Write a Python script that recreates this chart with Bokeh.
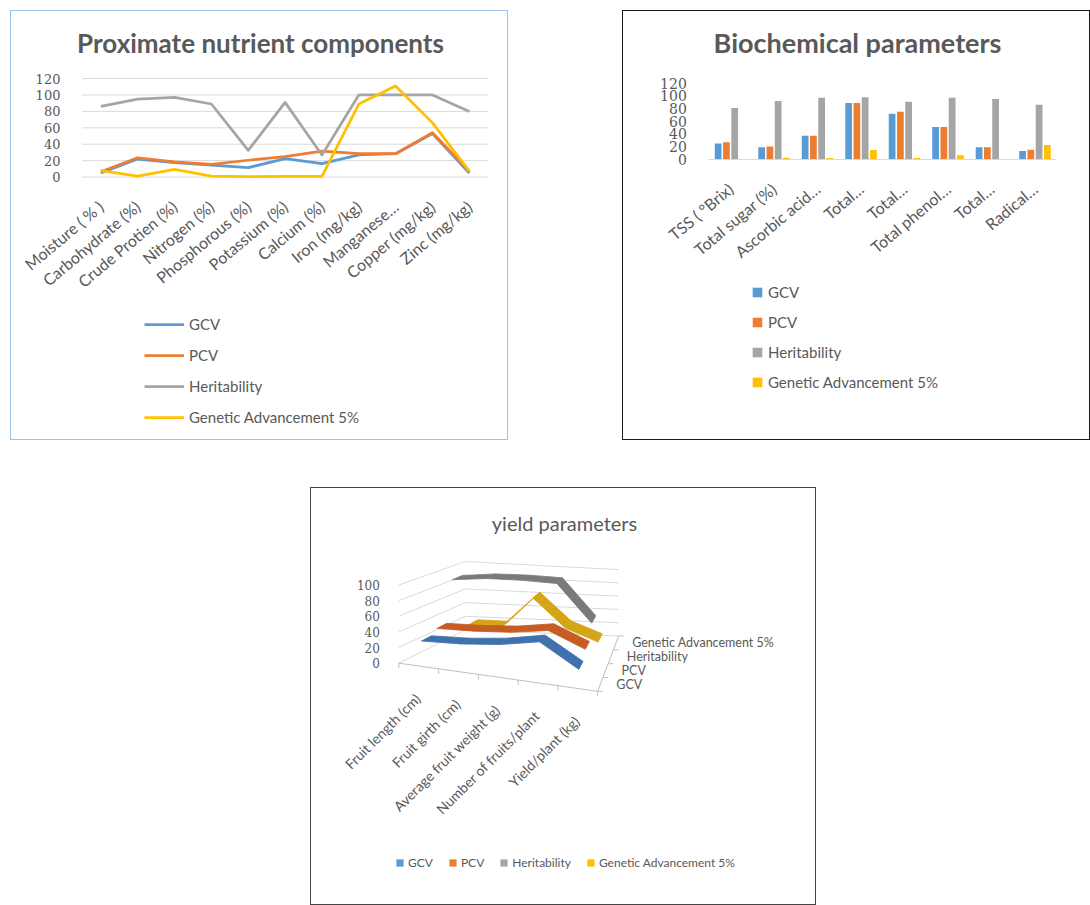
import math
from bokeh.plotting import figure
from bokeh.models import (Range1d, FixedTicker, Legend, LegendItem, Title, Spacer,
                          ColumnDataSource)
from bokeh.layouts import column, row
from bokeh.transform import dodge
from bokeh.core.properties import value
from bokeh.embed import file_html
from bokeh.resources import INLINE

# ---------------- data ----------------
series_names = ["GCV", "PCV", "Heritability", "Genetic Advancement 5%"]

prox_cats = ["Moisture ( % )", "Carbohydrate (%)", "Crude Protien (%)", "Nitrogen (%)",
             "Phosphorous (%)", "Potassium (%)", "Calcium (%)", "Iron (mg/kg)",
             "Manganese\u2026", "Copper (mg/kg)", "Zinc (mg/kg)"]
prox_gcv = [5, 22, 17.5, 14.5, 11.5, 22.5, 16.5, 27, 28.5, 53, 5]
prox_pcv = [6.5, 23.5, 18.5, 15.5, 20.5, 25, 31.5, 28.5, 28.5, 54, 7]
prox_her = [86, 95, 97, 89, 32.5, 91, 27, 100, 100, 100, 80]
prox_ga = [8, 1.2, 9.5, 1.2, 0.5, 0.8, 0.8, 89, 111, 66, 7.3]
prox_ticks = [0, 20, 40, 60, 80, 100, 120]

bio_cats = ["TSS ( \u00b0Brix)", "Total sugar (%)", "Ascorbic acid\u2026", "Total\u2026",
            "Total\u2026", "Total phenol\u2026", "Total\u2026", "Radical\u2026"]
bio_gcv = [25, 19, 37, 89, 72, 51, 19, 13]
bio_pcv = [27, 20, 37, 89, 75, 51, 19, 15]
bio_her = [81, 92, 97, 98, 91, 97, 95, 86]
bio_ga = [0, 2.5, 2, 14.5, 2, 6.5, 0, 22.5]
bio_ticks = [0, 20, 40, 60, 80, 100, 120]

yield_cats = ["Fruit length (cm)", "Fruit girth (cm)", "Average fruit weight (g)",
              "Number of fruits/plant", "Yield/plant (kg)"]
yield_gcv = [30, 33, 39, 49, 21]
yield_pcv = [36, 38, 42, 50, 31]
yield_her = [92, 98, 100, 100, 50]
yield_ga = [18, 18, 63, 23, 6]
yield_ticks = [0, 20, 40, 60, 80, 100]

# ---------------- styles ----------------
COLORS = ["#5b9bd5", "#ed7d31", "#a5a5a5", "#ffc000"]
RIBBON = ["#3f72ad", "#c65b24", "#7a7a7a", "#d4a516"]
TXT = "#595959"
GRID = "#d9d9d9"
SANS = "Lato"
SERIF = "DejaVu Serif"
ANG = math.radians(40)


def style_axis(ax, font, size):
    ax.axis_line_color = None
    ax.major_tick_line_color = None
    ax.minor_tick_line_color = None
    ax.major_label_text_font = font
    ax.major_label_text_font_size = size
    ax.major_label_text_color = TXT


def make_legend(items, loc, orientation, gw, gh, lh, spacing, fsize, standoff):
    lg = Legend(items=items, location=loc, orientation=orientation)
    lg.glyph_width = gw
    lg.glyph_height = gh
    lg.label_height = lh
    lg.spacing = spacing
    lg.padding = 0
    lg.margin = 0
    lg.border_line_color = None
    lg.background_fill_alpha = 0
    lg.label_text_font = SANS
    lg.label_text_font_size = fsize
    lg.label_text_color = TXT
    lg.label_standoff = standoff
    return lg


# top panels: canvas geometry on the page (inside 1px borders)
TOP_W1, TOP_W2, TOP_H = 498, 468, 430
MBL, MBR, MBB = 2, 2, 2
MBT1, MBT2 = 57, 57
ORG1 = (11, 11)
ORG2 = (623, 11)

# ---------------- panel 1 : line chart ----------------
P1_CAT0, P1_STEP = 100.0, 36.7          # page x of first category, px per category
P1_Y0, P1_PX = 176.0, 98.0 / 120.0      # page y of value 0, px per value unit
f1l, f1r = ORG1[0] + MBL, ORG1[0] + TOP_W1 - 2 - MBR
f1t, f1b = ORG1[1] + MBT1, ORG1[1] + TOP_H - 2 - MBB
px1 = list(range(len(prox_cats)))
p1 = figure(width=TOP_W1, height=TOP_H,
            x_range=Range1d((f1l - P1_CAT0) / P1_STEP, (f1r - P1_CAT0) / P1_STEP),
            y_range=Range1d((P1_Y0 - f1b) / P1_PX, (P1_Y0 - f1t) / P1_PX),
            output_backend="svg", toolbar_location=None,
            min_border_left=MBL, min_border_right=MBR, min_border_top=MBT1,
            min_border_bottom=MBB)
p1.styles = {"border": "1px solid #9dc3e6"}
p1.outline_line_color = None
p1.grid.visible = False
p1.title = Title(text="Proximate nutrient components", align="center",
                 text_font=SANS, text_font_size="26px", text_font_style="bold",
                 text_color=TXT, standoff=20)
p1.segment(x0=-0.5, x1=len(prox_cats) - 0.5, y0=prox_ticks, y1=prox_ticks,
           line_color=GRID, line_width=1)
r1 = []
for vals, c in zip([prox_gcv, prox_pcv, prox_her, prox_ga], COLORS):
    r1.append(p1.line(px1, vals, line_color=c, line_width=2.75, line_join="round"))
p1.yaxis.ticker = FixedTicker(ticks=prox_ticks)
p1.yaxis.fixed_location = -0.5
style_axis(p1.yaxis[0], SERIF, "13px")
p1.yaxis.major_label_standoff = 16
p1.xaxis.ticker = FixedTicker(ticks=px1)
p1.xaxis.major_label_overrides = {i: t for i, t in zip(px1, prox_cats)}
p1.xaxis.fixed_location = 0
style_axis(p1.xaxis[0], SANS, "16px")
p1.xaxis.major_label_orientation = ANG
p1.xaxis.major_label_standoff = 21
lg1 = make_legend([LegendItem(label=n, renderers=[r]) for n, r in zip(series_names, r1)],
                  (144 - f1l, f1b - 425), "vertical", 40, 20, 20, 11, "15px", 5)
p1.add_layout(lg1)

# ---------------- panel 2 : clustered bars ----------------
P2_CAT0, P2_STEP = 729.6, 43.3
P2_Y0, P2_PX = 158.3, 75.6 / 120.0
f2l, f2r = ORG2[0] + MBL, ORG2[0] + TOP_W2 - 2 - MBR
f2t, f2b = ORG2[1] + MBT2, ORG2[1] + TOP_H - 2 - MBB
bx = list(range(len(bio_cats)))
src2 = ColumnDataSource(dict(x=bx, gcv=bio_gcv, pcv=bio_pcv, her=bio_her, ga=bio_ga))
p2 = figure(width=TOP_W2, height=TOP_H,
            x_range=Range1d((f2l - P2_CAT0) / P2_STEP, (f2r - P2_CAT0) / P2_STEP),
            y_range=Range1d((P2_Y0 - f2b) / P2_PX, (P2_Y0 - f2t) / P2_PX),
            output_backend="svg", toolbar_location=None,
            min_border_left=MBL, min_border_right=MBR, min_border_top=MBT2,
            min_border_bottom=MBB)
p2.styles = {"border": "1px solid #1a1a1a"}
p2.outline_line_color = None
p2.grid.visible = False
p2.title = Title(text="Biochemical parameters", align="center",
                 text_font=SANS, text_font_size="27px", text_font_style="bold",
                 text_color=TXT, standoff=20)
r2 = []
for col, off, c in zip(["gcv", "pcv", "her", "ga"], [-0.285, -0.095, 0.095, 0.285], COLORS):
    r2.append(p2.vbar(x=dodge("x", off, range=p2.x_range), top=col, bottom=0,
                      width=0.155, source=src2, fill_color=c, line_color=None))
p2.yaxis.ticker = FixedTicker(ticks=bio_ticks)
p2.yaxis.fixed_location = -0.5
style_axis(p2.yaxis[0], SERIF, "14px")
p2.yaxis.major_label_standoff = 16
p2.xaxis.ticker = FixedTicker(ticks=bx)
p2.xaxis.major_label_overrides = {i: t for i, t in zip(bx, bio_cats)}
p2.xaxis.fixed_location = 0
p2.xaxis.bounds = (-0.5, len(bio_cats) - 0.5)
style_axis(p2.xaxis[0], SANS, "16px")
p2.xaxis.axis_line_color = GRID
p2.xaxis.major_label_orientation = ANG
p2.xaxis.major_label_standoff = 21
lg2 = make_legend([LegendItem(label=n, renderers=[r]) for n, r in zip(series_names, r2)],
                  (751 - f2l, f2b - 390.2), "vertical", 12, 12, 20, 10, "15px", 5)
p2.add_layout(lg2)

# ---------------- panel 3 : pseudo 3-D ribbons ----------------
PX0, PY0 = 311, 488          # canvas origin on the page
W3, H3 = 504, 416            # canvas size (inside 1px border)
MB_L, MB_R, MB_T, MB_B = 2, 2, 60, 8
Y0, K = 662.0, 0.777          # page y of front-left floor, px per value unit
FL, FR, BL, BR = (398.0, 662.0), (596.0, 690.0), (464.0, 629.0), (617.0, 635.0)
S_FL, S_FR, S_BL, S_BR = 77.7, 80.0, 68.0, 66.0


def to_data_y(py):
    return (Y0 - py) / K


def proj(u, v, h):
    fx = FL[0] + u * (FR[0] - FL[0]); fy = FL[1] + u * (FR[1] - FL[1])
    bxx = BL[0] + u * (BR[0] - BL[0]); byy = BL[1] + u * (BR[1] - BL[1])
    px = fx + v * (bxx - fx); py = fy + v * (byy - fy)
    s = ((1 - u) * (1 - v) * S_FL + u * (1 - v) * S_FR + (1 - u) * v * S_BL + u * v * S_BR) / 100.0
    return px, to_data_y(py - s * h)


fl_page = PX0 + MB_L
fr_page = PX0 + W3 - MB_R
ft_page = PY0 + MB_T
fb_page = PY0 + H3 - MB_B
p3 = figure(width=W3 + 2, height=H3 + 2, x_range=Range1d(fl_page, fr_page),
            y_range=Range1d(to_data_y(fb_page), to_data_y(ft_page)),
            output_backend="svg", toolbar_location=None,
            min_border_left=MB_L, min_border_right=MB_R, min_border_top=MB_T,
            min_border_bottom=MB_B)
p3.styles = {"border": "1px solid #444444"}
p3.outline_line_color = None
p3.grid.visible = False
p3.xaxis.visible = False
p3.title = Title(text="yield parameters", align="center", text_font=SANS,
                 text_font_size="20px", text_font_style="normal", text_color=TXT,
                 standoff=28)

wx, wy = [], []
for h in yield_ticks:
    a, b, c = proj(0, 0, h), proj(0, 1, h), proj(1, 1, h)
    wx.append([a[0], b[0], c[0]]); wy.append([a[1], b[1], c[1]])
p3.multi_line(wx, wy, line_color=GRID, line_width=1)

ncat = len(yield_cats)
ax_x, ax_y = [], []
a, b = proj(0, 0, 0), proj(1, 0, 0)
ax_x.append([a[0], b[0]]); ax_y.append([a[1], b[1]])
for k in range(ncat + 1):
    t = proj(k / ncat, 0, 0)
    ax_x.append([t[0], t[0]]); ax_y.append([t[1], t[1] - 5 / K])
a, b = proj(1, 0, 0), proj(1, 1, 0)
ax_x.append([a[0], b[0]]); ax_y.append([a[1], b[1]])
for k in range(5):
    t = proj(1, k / 4, 0)
    ax_x.append([t[0], t[0] + 5]); ax_y.append([t[1], t[1]])
p3.multi_line(ax_x, ax_y, line_color="#bfbfbf", line_width=1)

series3 = [yield_gcv, yield_pcv, yield_her, yield_ga]
half = 0.08
for i in reversed(range(4)):
    vals = series3[i]
    vc = (i + 0.5) / 4
    xs, ys = [], []
    for j in range(len(vals) - 1):
        u0, u1 = (j + 0.5) / ncat, (j + 1.5) / ncat
        pts = [proj(u0, vc - half, vals[j]), proj(u1, vc - half, vals[j + 1]),
               proj(u1, vc + half, vals[j + 1]), proj(u0, vc + half, vals[j])]
        xs.append([q[0] for q in pts]); ys.append([q[1] for q in pts])
    p3.patches(xs, ys, fill_color=RIBBON[i], line_color=RIBBON[i], line_width=0.8)

cx, cy = [], []
for j in range(ncat):
    t = proj((j + 0.5) / ncat, 0, 0)
    cx.append(t[0] - 1); cy.append(t[1] - 30 / K)
p3.text(cx, cy, text=yield_cats, angle=math.pi / 4, text_align="right",
        text_baseline="middle", text_font=value(SANS), text_font_size="14px",
        text_color=TXT)
dx, dy = [], []
for i in range(4):
    t = proj(1, (i + 0.5) / 4, 0)
    dx.append(t[0] + 16); dy.append(t[1])
p3.text(dx, dy, text=series_names, text_align="left", text_baseline="middle",
        text_font=value(SANS), text_font_size="12.5px", text_color=TXT)

r3 = []
for i in range(4):
    t = proj(0.5 / ncat, (i + 0.5) / 4, series3[i][0])
    r3.append(p3.quad(left=[t[0]], right=[t[0]], top=[t[1]], bottom=[t[1]],
                      fill_color=COLORS[i], line_color=None))
p3.yaxis.ticker = FixedTicker(ticks=yield_ticks)
p3.yaxis.fixed_location = FL[0] - 3
style_axis(p3.yaxis[0], SERIF, "12px")
p3.yaxis.major_label_standoff = 10
lg3 = make_legend([LegendItem(label=n, renderers=[r]) for n, r in zip(series_names, r3)],
                  (82, 26), "horizontal", 9, 9, 20, 15, "12px", 4)
p3.add_layout(lg3)

layout = column(Spacer(height=10),
                row(Spacer(width=10), p1, Spacer(width=114), p2),
                Spacer(height=47),
                row(Spacer(width=310), p3))

open("out.html", "w").write(file_html(layout, INLINE))
